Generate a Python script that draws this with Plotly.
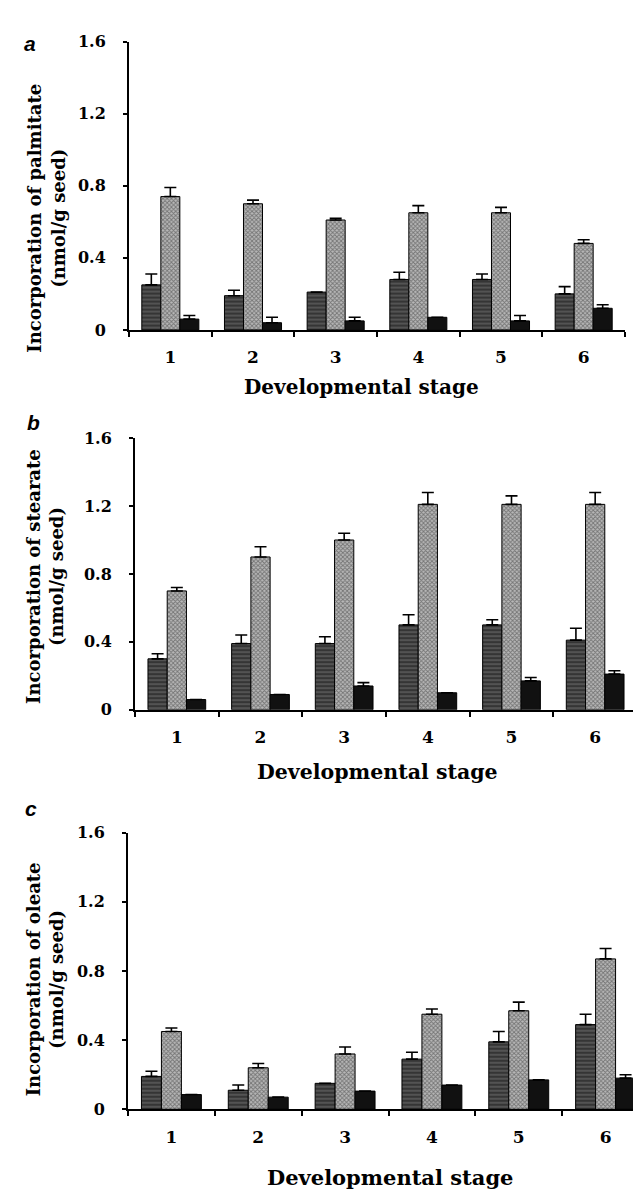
import plotly.graph_objects as go

W, H = 641, 1189

stages = ["1", "2", "3", "4", "5", "6"]

# Panel a: palmitate
a_dark = [0.25, 0.19, 0.21, 0.28, 0.28, 0.20]
a_dark_err = [0.06, 0.03, 0.0, 0.04, 0.03, 0.04]
a_light = [0.74, 0.70, 0.61, 0.65, 0.65, 0.48]
a_light_err = [0.05, 0.02, 0.01, 0.04, 0.03, 0.02]
a_black = [0.06, 0.04, 0.05, 0.07, 0.05, 0.12]
a_black_err = [0.02, 0.03, 0.02, 0.0, 0.03, 0.02]

# Panel b: stearate
b_dark = [0.30, 0.39, 0.39, 0.50, 0.50, 0.41]
b_dark_err = [0.03, 0.05, 0.04, 0.06, 0.03, 0.07]
b_light = [0.70, 0.90, 1.00, 1.21, 1.21, 1.21]
b_light_err = [0.02, 0.06, 0.04, 0.07, 0.05, 0.07]
b_black = [0.06, 0.09, 0.14, 0.10, 0.17, 0.21]
b_black_err = [0.0, 0.0, 0.02, 0.0, 0.02, 0.02]

# Panel c: oleate
c_dark = [0.19, 0.11, 0.15, 0.29, 0.39, 0.49]
c_dark_err = [0.03, 0.03, 0.0, 0.04, 0.06, 0.06]
c_light = [0.45, 0.24, 0.32, 0.55, 0.57, 0.87]
c_light_err = [0.02, 0.025, 0.04, 0.03, 0.05, 0.06]
c_black = [0.085, 0.07, 0.105, 0.14, 0.17, 0.18]
c_black_err = [0.0, 0.0, 0.0, 0.0, 0.0, 0.02]

panel_letters = ["a", "b", "c"]
y_titles = ["Incorporation of palmitate<br>(nmol/g seed)",
            "Incorporation of stearate<br>(nmol/g seed)",
            "Incorporation of oleate<br>(nmol/g seed)"]
x_title = "Developmental stage"
y_ticks = [0, 0.4, 0.8, 1.2, 1.6]
y_ticktext = ["0", "0.4", "0.8", "1.2", "1.6"]

SERIF = "DejaVu Serif"

# pixel geometry of each panel: (x_left, x_right, y_zero, y_top)
geo = [(121, 617, 318, 25), (127, 629, 704, 428), (120, 641, 1110, 829)]
ytitle_pos = [(38, 205), (37, 569), (37, 978)]
xtitle_pos = [(353, 376), (370, 767), (382, 1179)]
xtitle_size = [20, 20.5, 21]
letter_pos = [(22, 27), (25, 412), (23, 804)]

fig = go.Figure()

data = [
    (a_dark, a_dark_err, a_light, a_light_err, a_black, a_black_err),
    (b_dark, b_dark_err, b_light, b_light_err, b_black, b_black_err),
    (c_dark, c_dark_err, c_light, c_light_err, c_black, c_black_err),
]

def err(vals):
    return dict(type="data", symmetric=False, array=vals, arrayminus=[0] * len(vals),
                color="black", thickness=1.6, width=6)

layout = dict(
    width=W, height=H,
    margin=dict(l=0, r=0, t=0, b=0),
    paper_bgcolor="white", plot_bgcolor="white",
    showlegend=False,
    barmode="group", bargap=0.31, bargroupgap=0.0,
    font=dict(family=SERIF, color="black"),
)
annotations = []

for i, (d, de, l, le, k, ke) in enumerate(data):
    n = "" if i == 0 else str(i + 1)
    xa, ya = "x" + n, "y" + n
    fig.add_trace(go.Bar(x=stages, y=d, xaxis=xa, yaxis=ya, error_y=err(de),
                         marker=dict(color="#3a3a3a", line=dict(color="black", width=1),
                                     pattern=dict(shape="-", fgcolor="#8a8a8a", bgcolor="#353535",
                                                  size=4, solidity=0.35))))
    fig.add_trace(go.Bar(x=stages, y=l, xaxis=xa, yaxis=ya, error_y=err(le),
                         marker=dict(color="#aaaaaa", line=dict(color="black", width=1),
                                     pattern=dict(shape="x", fgcolor="#303030", bgcolor="#b8b8b8",
                                                  size=3, solidity=0.5))))
    fig.add_trace(go.Bar(x=stages, y=k, xaxis=xa, yaxis=ya, error_y=err(ke),
                         marker=dict(color="#111111", line=dict(color="black", width=1))))
    xl, xr, y0, yt = geo[i]
    layout["xaxis" + n] = dict(
        domain=[xl / W, xr / W], anchor=ya, type="category",
        showline=True, linecolor="black", linewidth=2,
        ticks="outside", tickson="boundaries", ticklen=5, tickwidth=1.5, tickcolor="black",
        ticklabelstandoff=11,
        tickfont=dict(family=SERIF, size=17, color="black", weight="bold"),
        showgrid=False, zeroline=False, fixedrange=True,
    )
    layout["yaxis" + n] = dict(
        domain=[1 - y0 / H, 1 - yt / H], anchor=xa, range=[0, 1.6],
        tickvals=y_ticks, ticktext=y_ticktext,
        showline=True, linecolor="black", linewidth=2,
        ticks="outside", ticklen=4, tickwidth=1.5, tickcolor="black",
        ticklabelstandoff=14,
        tickfont=dict(family=SERIF, size=16, color="black", weight="bold"),
        showgrid=False, zeroline=False, fixedrange=True,
    )
    tx, ty = ytitle_pos[i]
    annotations.append(dict(text=y_titles[i], x=tx / W, y=1 - ty / H, xref="paper", yref="paper",
                            textangle=-90, showarrow=False, xanchor="center", yanchor="middle",
                            font=dict(family=SERIF, size=18, color="black", weight="bold")))
    hx, hy = xtitle_pos[i]
    annotations.append(dict(text=x_title, x=hx / W, y=1 - hy / H, xref="paper", yref="paper",
                            showarrow=False, xanchor="center", yanchor="middle",
                            font=dict(family=SERIF, size=xtitle_size[i], color="black", weight="bold")))
    lx, ly = letter_pos[i]
    annotations.append(dict(text="<b><i>" + panel_letters[i] + "</i></b>", x=lx / W, y=1 - ly / H,
                            xref="paper", yref="paper", showarrow=False,
                            xanchor="center", yanchor="middle",
                            font=dict(family="Liberation Sans", size=21, color="black")))

layout["annotations"] = annotations
fig.update_layout(**layout)
fig.write_html("out.html")
